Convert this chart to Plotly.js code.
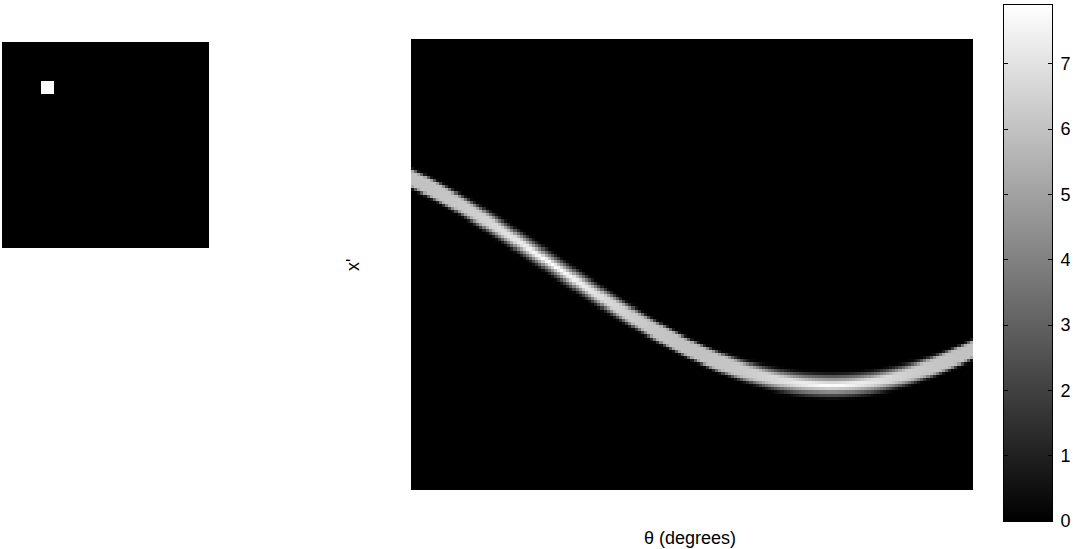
<!DOCTYPE html>
<html><head><meta charset="utf-8">
<script src="https://cdn.plot.ly/plotly-3.0.1.min.js"></script>
<style>html,body{margin:0;padding:0;background:#fff}#chart{width:1087px;height:549px}</style>
</head><body><div id="chart"></div>
<script>
// ---- data ----
const imageSize = 100;            // 100 x 100 source image
const squareRows = [20, 25];      // 1-based inclusive rows of the bright square
const squareCols = [20, 25];      // 1-based inclusive columns
const squareValue = 1;
const thetaStart = 0, thetaEnd = 180, thetaStep = 1;  // projection angles (degrees)
const colorbarTicks = [0, 1, 2, 3, 4, 5, 6, 7];
const colorbarMax = 7.9;
const xLabel = 'θ (degrees)';
const yLabel = "x'";

// ---- source image ----
const img = [];
for (let r = 1; r <= imageSize; r++) {
  const row = [];
  for (let c = 1; c <= imageSize; c++) {
    row.push(r >= squareRows[0] && r <= squareRows[1] && c >= squareCols[0] && c <= squareCols[1] ? squareValue : 0);
  }
  img.push(row);
}
const theta = [];
for (let t = thetaStart; t <= thetaEnd; t += thetaStep) theta.push(t);

// ---- Radon transform (same scheme as MATLAB radon) ----
const M = imageSize, N = imageSize;
const center = [Math.floor((M + 1) / 2), Math.floor((N + 1) / 2)];
const t1 = M - 1 - (center[0] - 1), t2 = N - 1 - (center[1] - 1);
const rLast = Math.ceil(Math.sqrt(t1 * t1 + t2 * t2)) + 1;
const rFirst = -rLast;
const nBins = rLast - rFirst + 1;
const xp = [];
for (let r = rFirst; r <= rLast; r++) xp.push(r);
const xOrigin = Math.max(0, Math.floor((N - 1) / 2));
const yOrigin = Math.max(0, Math.floor((M - 1) / 2));
const R = [];
for (let i = 0; i < nBins; i++) R.push(new Array(theta.length).fill(0));
theta.forEach((th, k) => {
  const a = th * Math.PI / 180, ca = Math.cos(a), sa = Math.sin(a);
  for (let m = 0; m < M; m++) {
    for (let n = 0; n < N; n++) {
      const v = img[m][n];
      if (!v) continue;
      const p = v * 0.25;
      const x = n - xOrigin, y = yOrigin - m;
      for (const dx of [-0.25, 0.25]) for (const dy of [-0.25, 0.25]) {
        const r = (x + dx) * ca + (y + dy) * sa - rFirst;
        const lo = Math.floor(r), d = r - lo;
        R[lo][k] += p * (1 - d);
        R[lo + 1][k] += p * d;
      }
    }
  }
});
const zmax = colorbarMax;

// colorbar gradient
const cbVals = [];
for (let i = 0; i <= 255; i++) cbVals.push(zmax * i / 255);

const gray = [[0, '#000000'], [1, '#ffffff']];
const W = 1087, H = 549;
const font = {family: 'Liberation Sans, Arial, sans-serif', size: 18, color: '#000'};

const traces = [
  {type: 'heatmap', z: img, x: img[0].map((_, i) => i + 1), y: img.map((_, i) => i + 1),
   colorscale: gray, zmin: 0, zmax: 1, showscale: false, zsmooth: false,
   xaxis: 'x', yaxis: 'y', hoverinfo: 'skip'},
  {type: 'heatmap', z: R, x: theta, y: xp, colorscale: gray, zmin: 0, zmax: zmax,
   showscale: false, zsmooth: false, xaxis: 'x2', yaxis: 'y2', hoverinfo: 'skip'},
  {type: 'heatmap', z: cbVals.map(v => [v]), x: [0], y: cbVals, colorscale: gray,
   zmin: 0, zmax: zmax, showscale: false, zsmooth: false, xaxis: 'x3', yaxis: 'y3', hoverinfo: 'skip'}
];

const hidden = {visible: false, showgrid: false, zeroline: false};
const layout = {
  width: W, height: H, margin: {l: 0, r: 0, t: 0, b: 0},
  paper_bgcolor: '#fff', plot_bgcolor: '#fff', showlegend: false, font: font,
  xaxis: Object.assign({}, hidden, {domain: [2 / W, 209 / W], range: [0.5, imageSize + 0.5], anchor: 'y'}),
  yaxis: Object.assign({}, hidden, {domain: [1 - 248 / H, 1 - 42 / H], range: [imageSize + 0.5, 0.5], anchor: 'x'}),
  xaxis2: {domain: [411 / W, 973 / W], range: [thetaStart - 0.5, thetaEnd + 0.5], anchor: 'y2',
           showticklabels: false, ticks: '', showgrid: false, zeroline: false, showline: false},
  yaxis2: {domain: [1 - 490 / H, 1 - 39 / H], range: [rLast + 0.5, rFirst - 0.5], anchor: 'x2',
           showticklabels: false, ticks: '', showgrid: false, zeroline: false, showline: false},
  xaxis3: {domain: [1004 / W, 1052 / W], range: [-0.5, 0.5], anchor: 'y3', showticklabels: false,
           ticks: '', showgrid: false, zeroline: false, showline: true, mirror: true,
           linecolor: '#000', linewidth: 1},
  yaxis3: {domain: [1 - 521 / H, 1 - 5 / H], range: [0, zmax], anchor: 'x3', side: 'right',
           tickvals: colorbarTicks, ticks: 'inside', ticklen: 4, tickcolor: '#000', mirror: 'ticks',
           showline: true, linecolor: '#000', linewidth: 1, showgrid: false, zeroline: false,
           tickfont: font, ticklabelstandoff: 4},
  annotations: [
    {text: xLabel, xref: 'paper', yref: 'paper', x: 690 / W, y: 1 - 538 / H,
     xanchor: 'center', yanchor: 'middle', showarrow: false, font: font},
    {text: yLabel, xref: 'paper', yref: 'paper', x: 353 / W, y: 1 - 265 / H, textangle: -90,
     xanchor: 'center', yanchor: 'middle', showarrow: false, font: font}
  ]
};
Plotly.newPlot('chart', traces, layout, {displayModeBar: false, staticPlot: true});
</script>
</body></html>
